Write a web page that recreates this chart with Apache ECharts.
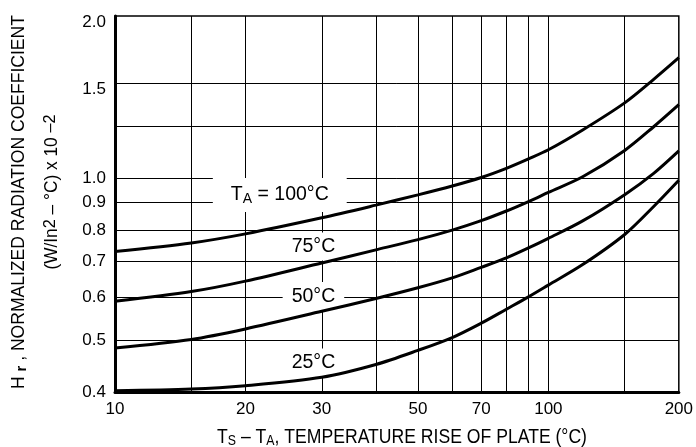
<!DOCTYPE html>
<html>
<head>
<meta charset="utf-8">
<script src="https://cdn.jsdelivr.net/npm/echarts@6/dist/echarts.min.js"></script>
<style>
html,body{margin:0;padding:0;background:#fff;}
#chart{width:696px;height:447px;}
</style>
</head>
<body>
<div id="chart"></div>
<script>
// ---- data ----
const tempRise = [10, 15, 20, 30, 40, 50, 60, 70, 80, 90, 100, 120, 150, 175, 200];
const hr100 = [0.730, 0.757, 0.787, 0.843, 0.890, 0.930, 0.966, 1.002, 1.042, 1.085, 1.128, 1.228, 1.379, 1.525, 1.673];
const hr75  = [0.590, 0.615, 0.643, 0.695, 0.735, 0.768, 0.800, 0.833, 0.868, 0.904, 0.940, 1.005, 1.125, 1.245, 1.368];
const hr50  = [0.483, 0.501, 0.524, 0.565, 0.597, 0.625, 0.652, 0.682, 0.710, 0.741, 0.772, 0.832, 0.931, 1.020, 1.123];
const hr25  = [0.402, 0.405, 0.411, 0.426, 0.450, 0.478, 0.505, 0.537, 0.570, 0.601, 0.632, 0.690, 0.785, 0.885, 0.990];
const xTickLabels = [10, 20, 30, 50, 70, 100, 200];
const yTickLabels = [0.4, 0.5, 0.6, 0.7, 0.8, 0.9, 1.0, 1.5, 2.0];
const xGridValues = [15, 20, 30, 40, 50, 60, 70, 80, 90, 100, 150];
const yGridValues = [0.5, 0.6, 0.7, 0.8, 0.9, 1.0, 1.25, 1.5];
const curveNames = ['{t|T}{s|A}{t| = 100°C}', '{t|75°C}', '{t|50°C}', '{t|25°C}'];

const FONT = "'Liberation Sans', Arial, sans-serif";

function pair(xs, ys) { return xs.map((x, i) => [x, ys[i]]); }

const chart = echarts.init(document.getElementById('chart'), null, {renderer: 'canvas'});

const curveSeries = [hr100, hr75, hr50, hr25].map((d, i) => ({
  type: 'line',
  name: 'c' + i,
  data: pair(tempRise, d),
  smooth: 0.3,
  showSymbol: false,
  symbol: 'none',
  z: 5,
  lineStyle: {color: '#000', width: 3},
  silent: true
}));

const labelRich = {
  t: {fontFamily: FONT, fontSize: 19.5, color: '#000', lineHeight: 22, verticalAlign: 'middle'},
  s: {fontFamily: FONT, fontSize: 14, color: '#000', lineHeight: 10, verticalAlign: 'bottom'}
};

const labelPos = [
  {coord: [24.0, 0.930], pad: [6, 18, 6, 18]},
  {coord: [28.7, 0.746], pad: [3, 8, 3, 8]},
  {coord: [28.7, 0.601], pad: [4, 9, 4, 9]},
  {coord: [28.7, 0.4536], pad: [3, 8, 3, 8]}
];

const option = {
  animation: false,
  backgroundColor: '#fff',
  grid: {left: 115, right: 16, top: 16, bottom: 55, show: true, borderColor: '#000', borderWidth: 1.5, backgroundColor: 'transparent'},
  xAxis: {
    type: 'log', logBase: 10, min: 10, max: 200,
    axisLine: {show: true, onZero: false, lineStyle: {color: '#000', width: 3}},
    axisTick: {show: false},
    splitLine: {show: false},
    minorSplitLine: {show: false},
    axisLabel: {
      customValues: xTickLabels,
      color: '#000', fontFamily: FONT, fontSize: 17, margin: 9,
      formatter: v => String(Math.round(v))
    }
  },
  yAxis: {
    type: 'log', logBase: 10, min: 0.4, max: 2.0,
    axisLine: {show: true, onZero: false, lineStyle: {color: '#000', width: 3}},
    axisTick: {show: false},
    splitLine: {show: false},
    minorSplitLine: {show: false},
    axisLabel: {
      customValues: yTickLabels,
      color: '#000', fontFamily: FONT, fontSize: 17, margin: 9,
      formatter: v => {
        const s = Number(v).toFixed(1);
        return v >= 1.45 ? '{lo|' + s + '}' : s;
      },
      rich: {
        lo: {fontFamily: FONT, fontSize: 17, color: '#000', padding: [12, 0, 0, 0]}
      }
    }
  },
  series: [
    {
      type: 'line', name: 'grid', data: [], z: 1, silent: true,
      markLine: {
        silent: true, symbol: 'none', animation: false,
        label: {show: false},
        lineStyle: {color: '#000', width: 1, type: 'solid'},
        emphasis: {disabled: true},
        data: xGridValues.map(v => ({xAxis: v})).concat(yGridValues.map(v => ({yAxis: v})))
      }
    },
    {
      type: 'line', name: 'labels', data: [], z: 3, silent: true,
      markPoint: {
        silent: true, symbol: 'rect', symbolSize: 0, animation: false,
        data: labelPos.map((p, i) => ({
          name: curveNames[i], coord: p.coord,
          label: {
            show: true, position: 'inside', formatter: '{b}',
            backgroundColor: '#fff', padding: p.pad,
            rich: labelRich
          }
        }))
      }
    }
  ].concat(curveSeries),
  graphic: [
    {
      type: 'text', x: 19, y: 202, rotation: Math.PI / 2, scaleX: 0.975, silent: true,
      style: {
        text: '{m|H }{s|r}{m| , NORMALIZED RADIATION COEFFICIENT}',
        align: 'center', verticalAlign: 'middle',
        rich: {
          m: {fontFamily: FONT, fontSize: 18, color: '#000', lineHeight: 20, verticalAlign: 'middle'},
          s: {fontFamily: FONT, fontSize: 15, fontWeight: 'bold', color: '#000', lineHeight: 8, verticalAlign: 'bottom'}
        }
      }
    },
    {
      type: 'text', x: 52, y: 192, rotation: Math.PI / 2, scaleX: 0.96, silent: true,
      style: {
        text: '{m|(W/In}{p|2}{m| – °C) x 10 }{p|–2}',
        align: 'center', verticalAlign: 'middle',
        rich: {
          m: {fontFamily: FONT, fontSize: 18, color: '#000', lineHeight: 20, verticalAlign: 'middle'},
          p: {fontFamily: FONT, fontSize: 17, color: '#000', lineHeight: 8, verticalAlign: 'top'}
        }
      }
    },
    {
      type: 'text', x: 402, y: 437, scaleX: 0.88, silent: true,
      style: {
        text: '{m|T}{s|S}{m| – T}{s|A}{m|, TEMPERATURE RISE OF PLATE (°C)}',
        align: 'center', verticalAlign: 'middle',
        rich: {
          m: {fontFamily: FONT, fontSize: 20, color: '#000', lineHeight: 22, verticalAlign: 'middle'},
          s: {fontFamily: FONT, fontSize: 14, color: '#000', lineHeight: 10, verticalAlign: 'bottom'}
        }
      }
    }
  ]
};

chart.setOption(option);
</script>
</body>
</html>
